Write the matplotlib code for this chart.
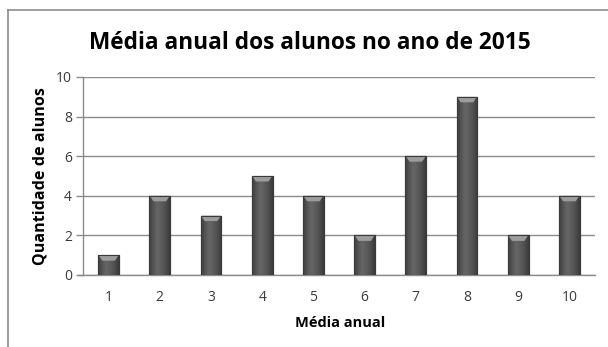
import numpy as np
import matplotlib
matplotlib.use("Agg")
import matplotlib.pyplot as plt
from matplotlib.patches import Polygon, Rectangle
from matplotlib.colors import LinearSegmentedColormap

plt.rcParams['font.family'] = ['Open Sans', 'DejaVu Sans']

categories = ['1', '2', '3', '4', '5', '6', '7', '8', '9', '10']
counts = [1, 4, 3, 5, 4, 2, 6, 9, 2, 4]
y_ticks = [0, 2, 4, 6, 8, 10]
title = 'Média anual dos alunos no ano de 2015'
x_title = 'Média anual'
y_title = 'Quantidade de alunos'

W, H = 608, 347
fig = plt.figure(figsize=(W / 100, H / 100), dpi=100)
fig.patch.set_facecolor('white')

# chart frame (top and left edges visible)
fig.add_artist(plt.Line2D([8 / W, 8 / W], [0, 1 - 10 / H], transform=fig.transFigure,
                          color='#8c8c8c', lw=1.2))
fig.add_artist(plt.Line2D([8 / W, 1], [1 - 10 / H, 1 - 10 / H], transform=fig.transFigure,
                          color='#8c8c8c', lw=1.2))

ax = fig.add_axes([83 / W, 1 - 275 / H, (595 - 83) / W, (275 - 77) / H])
x = np.arange(len(categories))
ax.set_xlim(-0.5, len(categories) - 0.5)
ax.set_ylim(0, 10)

for s in ['top', 'right', 'bottom']:
    ax.spines[s].set_visible(False)
ax.spines['left'].set_color('#8c8c8c')
ax.spines['left'].set_linewidth(1.0)
ax.set_yticks(y_ticks)
ax.yaxis.grid(True, color='#8c8c8c', lw=1.0)
ax.set_axisbelow(True)
ax.tick_params(axis='y', length=5, width=1.0, color='#8c8c8c', labelsize=10,
               labelcolor='#3a3a3a', pad=3)
ax.tick_params(axis='x', length=0, labelsize=10, labelcolor='#3a3a3a', pad=11)
ax.set_xticks(x)
ax.set_xticklabels(categories)
# baseline extends slightly past the axis like the tick marks
ax.axhline(0, color='#8c8c8c', lw=1.0, xmin=-0.01, clip_on=False)

width = 0.41
bars = ax.bar(x, counts, width=width, color='#585858', edgecolor='#3c3c3c', lw=0.8, zorder=2)

grad = LinearSegmentedColormap.from_list(
    'cyl', ['#3e3e3e', '#555555', '#666666', '#5c5c5c', '#4e4e4e', '#3a3a3a'])
px_per_unit = (275 - 77) / 10.0
bevel = 5.5 / px_per_unit
for b, v in zip(bars, counts):
    x0 = b.get_x()
    w = b.get_width()
    img = ax.imshow(np.linspace(0, 1, 64)[None, :], cmap=grad, aspect='auto',
                    extent=[x0, x0 + w, 0, v], zorder=2.5, interpolation='bilinear')
    img.set_clip_path(b)
    inset = w * 0.2
    top = Polygon([[x0 + 0.01, v], [x0 + w - 0.01, v],
                   [x0 + w - inset, v - bevel], [x0 + inset, v - bevel]],
                  closed=True, facecolor='#9c9c9c', edgecolor='none', zorder=3)
    ax.add_patch(top)
    ax.add_patch(Rectangle((x0, 0), w, v, fill=False, edgecolor='#3a3a3a', lw=0.8, zorder=3.5))

fig.text(310 / W, 1 - 43 / H, title, ha='center', va='center', fontsize=16.3,
         fontweight='bold', color='black')
fig.text(41 / W, 1 - 176 / H, y_title, ha='center', va='center', rotation=90,
         fontsize=11.6, fontweight='bold', color='black')
fig.text(340 / W, 1 - 323 / H, x_title, ha='center', va='center',
         fontsize=10.5, fontweight='bold', color='black')

fig.savefig('out.png', dpi=100)
